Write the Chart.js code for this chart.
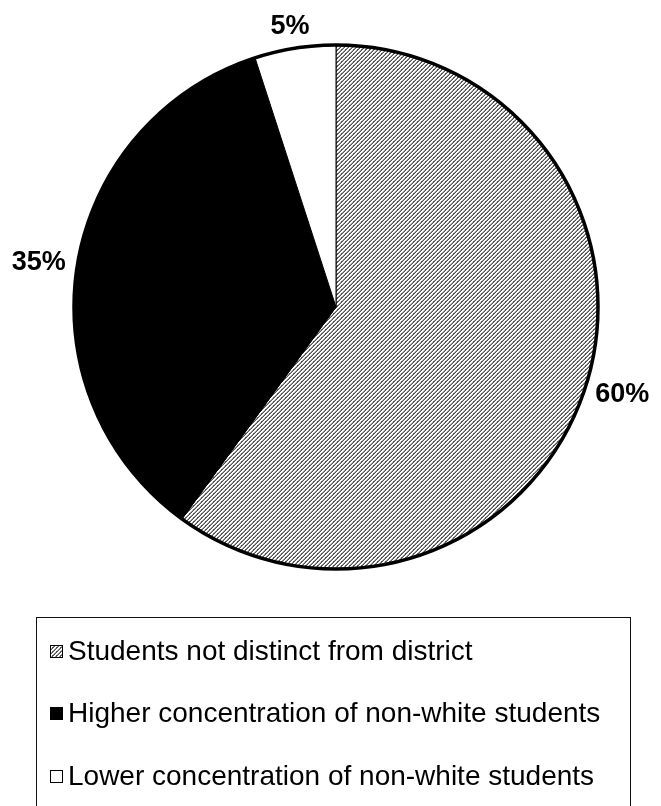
<!DOCTYPE html>
<html>
<head>
<meta charset="utf-8">
<script src="https://cdn.jsdelivr.net/npm/chart.js@4.4.1/dist/chart.umd.min.js"></script>
<style>
  html, body { margin: 0; padding: 0; background: #fff; }
  #wrap { position: relative; width: 661px; height: 806px; overflow: hidden; }
  #c { position: absolute; left: 0; top: 0; }
  #legend {
    position: absolute; left: 36px; top: 617px; width: 595px; height: 220px;
    border: 1px solid #111; box-sizing: border-box;
    font-family: "Liberation Sans", Arial, sans-serif; font-size: 28px; color: #000;
  }
  .row { position: absolute; left: 13px; height: 32px; display: flex; align-items: center; white-space: nowrap; }
  .sw { width: 13px; height: 13px; border: 1px solid #000; box-sizing: border-box; margin-right: 5px; flex: none; }
</style>
</head>
<body>
<div id="wrap">
  <canvas id="c" width="661" height="806"></canvas>
  <div id="legend"></div>
</div>
<script>
// ---- data ----
const categories = [
  "Students not distinct from district",
  "Higher concentration of non-white students",
  "Lower concentration of non-white students"
];
const shares = [60, 35, 5];
const percentLabels = ["60%", "35%", "5%"];

// ---- pattern fill for the first slice ----
function makePattern() {
  const t = document.createElement('canvas');
  t.width = 4; t.height = 4;
  const g = t.getContext('2d');
  g.fillStyle = '#ffffff'; g.fillRect(0, 0, 4, 4);
  const on = [
    [0,0,2,1],
    [0,1,1,0],
    [2,1,0,0],
    [1,0,0,2]
  ];
  for (let y = 0; y < 4; y++) for (let x = 0; x < 4; x++) {
    if (on[y][x] === 1) { g.fillStyle = '#555555'; g.fillRect(x, y, 1, 1); }
    else if (on[y][x] === 2) { g.fillStyle = '#9a9a9a'; g.fillRect(x, y, 1, 1); }
  }
  return t;
}
const tile = makePattern();
const ctx = document.getElementById('c').getContext('2d');
const hatch = ctx.createPattern(tile, 'repeat');
const fills = [hatch, '#000000', '#ffffff'];

// ---- plugin: thick outer rim + outside percent labels ----
const rimAndLabels = {
  id: 'rimAndLabels',
  afterDatasetsDraw(chart, args, opts) {
    const meta = chart.getDatasetMeta(0);
    const c = chart.ctx;
    const a0 = meta.data[0];
    const cx = a0.x, cy = a0.y, r = a0.outerRadius;
    c.save();
    c.beginPath();
    c.arc(cx, cy, r, 0, Math.PI * 2);
    c.lineWidth = opts.rimWidth;
    c.strokeStyle = '#000';
    c.stroke();
    c.font = opts.font;
    c.fillStyle = '#000';
    c.textAlign = 'center';
    c.textBaseline = 'middle';
    const hh = opts.halfHeight;
    meta.data.forEach((arc, i) => {
      const mid = (arc.startAngle + arc.endAngle) / 2;
      const ux = Math.cos(mid), uy = Math.sin(mid);
      const txt = percentLabels[i];
      const hw = c.measureText(txt).width / 2;
      const x = cx + ux * (r + opts.gap + hw);
      const y = cy + uy * (r + opts.gap + hh);
      c.fillText(txt, x, y);
    });
    c.restore();
  }
};

new Chart(ctx, {
  type: 'pie',
  data: {
    labels: categories,
    datasets: [{
      data: shares,
      backgroundColor: fills,
      borderColor: '#000',
      borderWidth: 1,
      borderJoinStyle: 'miter'
    }]
  },
  options: {
    responsive: false,
    animation: false,
    devicePixelRatio: 1,
    layout: { padding: { left: 73.5, right: 62.5, top: 44.5, bottom: 236.5 } },
    plugins: {
      legend: { display: false },
      tooltip: { enabled: false },
      rimAndLabels: { rimWidth: 3.5, gap: 12, halfHeight: 10, font: 'bold 27px "Liberation Sans", Arial, sans-serif' }
    }
  },
  plugins: [rimAndLabels]
});

// ---- legend (HTML text) ----
const legend = document.getElementById('legend');
const rowCenters = [33, 95, 158];
const swatchUrl = tile.toDataURL();
categories.forEach((name, i) => {
  const row = document.createElement('div');
  row.className = 'row';
  row.style.top = (rowCenters[i] - 16) + 'px';
  const sw = document.createElement('span');
  sw.className = 'sw';
  if (i === 0) { sw.style.backgroundImage = 'url(' + swatchUrl + ')'; }
  else sw.style.background = fills[i];
  const tx = document.createElement('span');
  tx.textContent = name;
  row.appendChild(sw); row.appendChild(tx);
  legend.appendChild(row);
});
</script>
</body>
</html>
